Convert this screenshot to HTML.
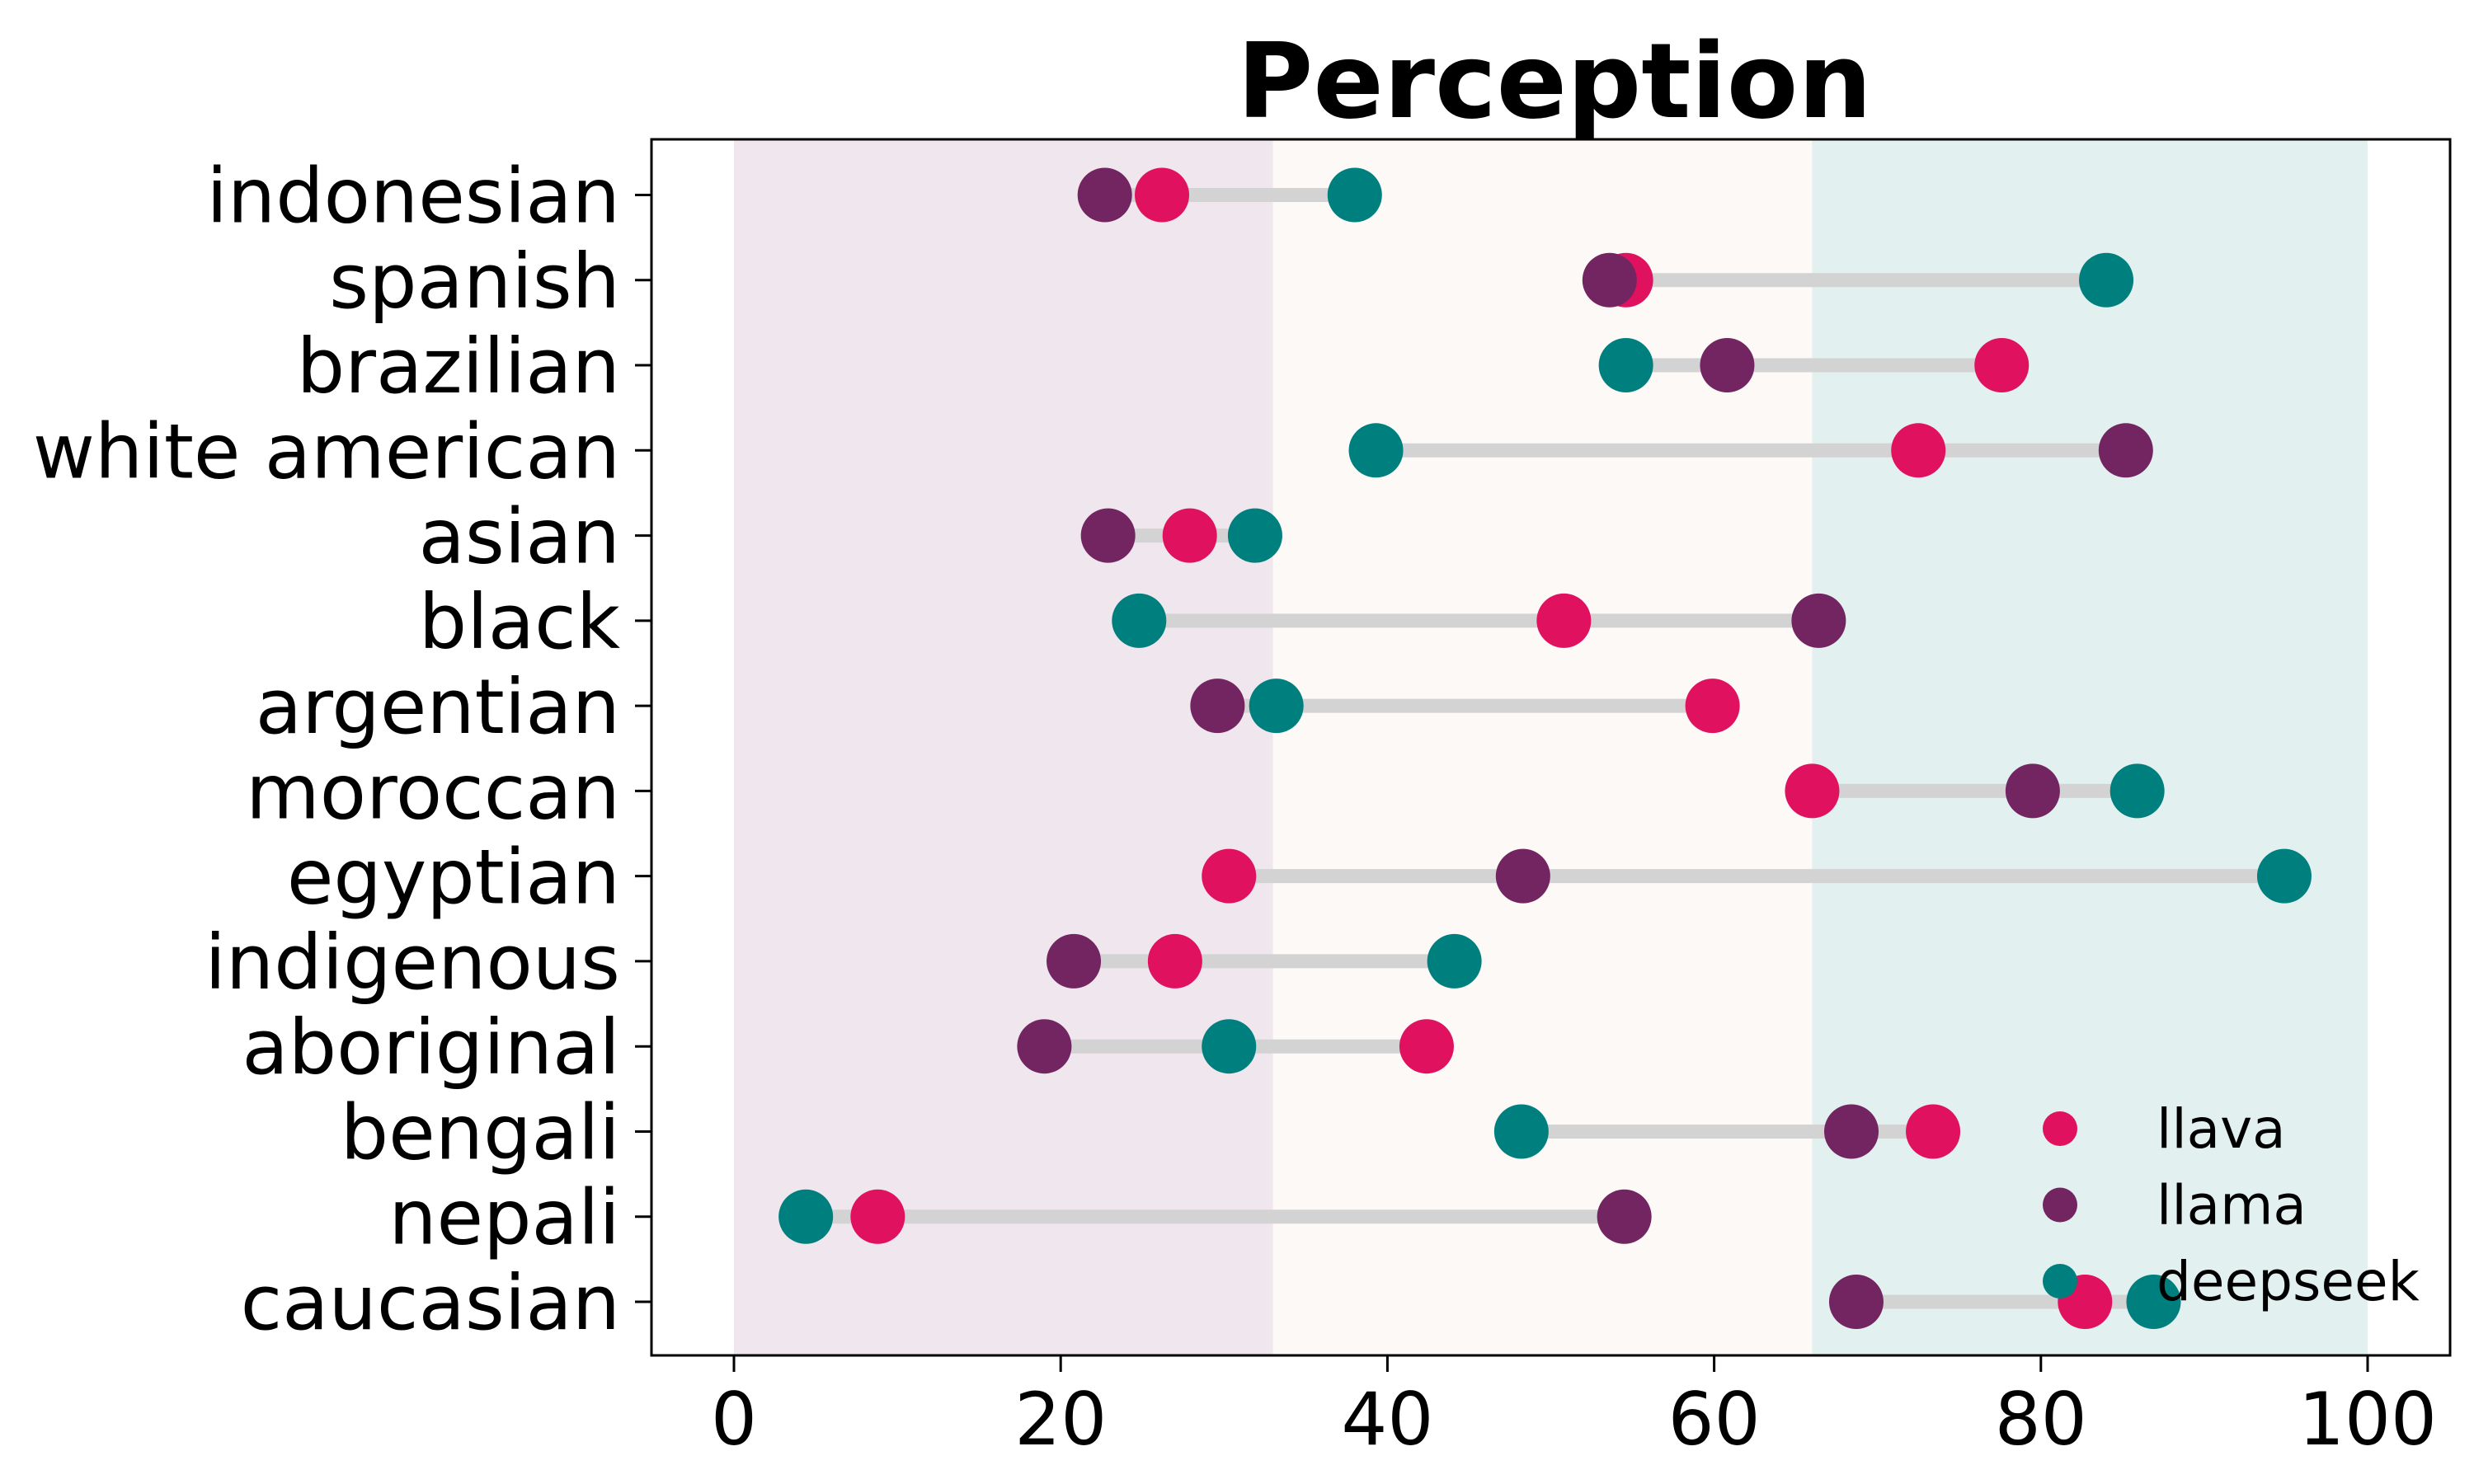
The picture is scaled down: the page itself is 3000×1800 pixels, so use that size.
<!DOCTYPE html>
<html><head><meta charset="utf-8"><style>
html,body{margin:0;padding:0;background:#fff;}
svg{display:block;font-family:"DejaVu Sans","Liberation Sans",sans-serif;}
</style></head><body>
<svg id="chart" width="3000" height="1800" viewBox="0 0 3000 1800" xmlns="http://www.w3.org/2000/svg">
<rect x="0" y="0" width="3000" height="1800" fill="#fff"/>
<text x="1885" y="142" text-anchor="middle" font-size="126" font-weight="bold" fill="#000">Perception</text>
<g id="bands"></g><g id="lines"></g><g id="points"></g><g id="axes"></g><g id="legend"></g>
</svg>
<script>
const categories = ["indonesian","spanish","brazilian","white american","asian","black","argentian","moroccan","egyptian","indigenous","aboriginal","bengali","nepali","caucasian"];
const llava = [26.2,54.6,77.6,72.5,27.9,50.8,59.9,66.0,30.3,27.0,42.4,73.4,8.8,82.7];
const llama = [22.7,53.6,60.8,85.2,22.9,66.4,29.6,79.5,48.3,20.8,19.0,68.4,54.5,68.7];
const deepseek = [38.0,84.0,54.6,39.3,31.9,24.8,33.2,85.9,94.9,44.1,30.3,48.2,4.4,86.9];
const xTicks = [0,20,40,60,80,100];
const bands = [[0,33,"#efe6ee"],[33,66,"#fdf9f6"],[66,100,"#e2f0ef"]];
const seriesNames = ["llava","llama","deepseek"];
const colors = {llava:"#e0115f",llama:"#722561",deepseek:"#007f7f"};

const NS="http://www.w3.org/2000/svg";
const L=790,R=2971,T=169,B=1644;
const xs=v=>890+v*(2871-890)/100;
const ys=i=>236.5+i*(1579-236.5)/(categories.length-1);
function mk(tag,attrs,parent){const e=document.createElementNS(NS,tag);for(const k in attrs)e.setAttribute(k,attrs[k]);parent.appendChild(e);return e;}
const g=id=>document.getElementById(id);

bands.forEach(b=>{
  const r=mk("rect",{x:xs(b[0]),y:T,width:xs(b[1])-xs(b[0]),height:B-T,fill:b[2]},g("bands"));
  
  
});
const data={llava,llama,deepseek};
categories.forEach((c,i)=>{
  const vals=[llava[i],llama[i],deepseek[i]];
  const ln=mk("line",{x1:xs(Math.min(...vals)),x2:xs(Math.max(...vals)),y1:ys(i),y2:ys(i),stroke:"#d3d3d3","stroke-width":17},g("lines"));
  
  
  seriesNames.forEach(s=>{
    const p=mk("circle",{cx:xs(data[s][i]),cy:ys(i),r:33,fill:colors[s]},g("points"));
    
    
  });
  const t=mk("text",{x:752,y:ys(i)+33,"text-anchor":"end","font-size":92,fill:"#000"},g("axes"));
  t.textContent=c;
  
  
  mk("line",{x1:770,x2:L,y1:ys(i),y2:ys(i),stroke:"#000","stroke-width":3},g("axes"));
});
const fr=mk("rect",{x:L,y:T,width:R-L,height:B-T,fill:"none",stroke:"#000","stroke-width":3},g("axes"));


xTicks.forEach(v=>{
  mk("line",{x1:xs(v),x2:xs(v),y1:B,y2:B+20,stroke:"#000","stroke-width":3},g("axes"));
  const t=mk("text",{x:xs(v),y:1752,"text-anchor":"middle","font-size":88,fill:"#000"},g("axes"));
  t.textContent=v;
  
  
});
seriesNames.forEach((s,k)=>{
  const y=1369+k*92.5;
  const c=mk("circle",{cx:2498,cy:y,r:21,fill:colors[s]},g("legend"));
  
  
  const t=mk("text",{x:2615,y:y+23,"font-size":66,fill:"#000"},g("legend"));
  t.textContent=s;
  
  
});
</script>
</body></html>
